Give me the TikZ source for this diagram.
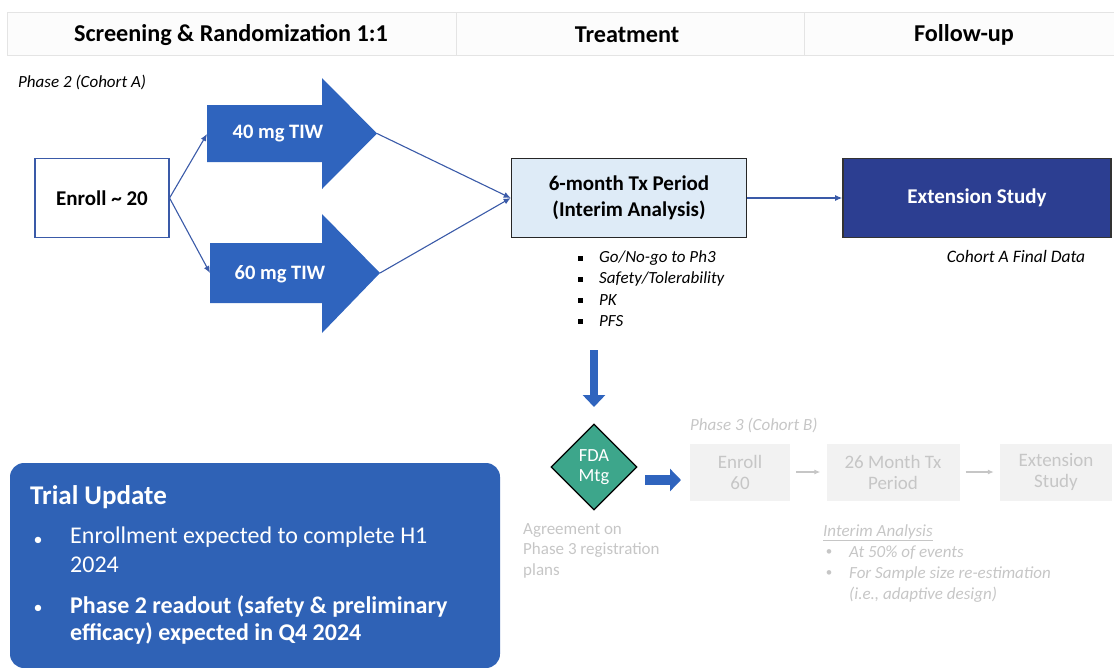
\documentclass[tikz,border=0pt]{standalone}
\usepackage{fontspec}
\setmainfont{Carlito}
\usetikzlibrary{arrows.meta,shapes.geometric}

\definecolor{hdrbg}{HTML}{FCFCFC}
\definecolor{hdrline}{HTML}{E4E4E4}
\definecolor{armblue}{HTML}{2F64BE}
\definecolor{navy}{HTML}{2C3E91}
\definecolor{paleblue}{HTML}{DEEBF7}
\definecolor{tealgreen}{HTML}{3DA68B}
\definecolor{fadetext}{HTML}{C6C6C6}
\definecolor{fadebox}{HTML}{F2F2F2}
\definecolor{linkblue}{HTML}{3A5AA8}
\definecolor{updblue}{HTML}{2F62B6}

\tikzset{
  hdrtext/.style={font=\fontsize{24.2}{28}\selectfont\bfseries, text=black},
  link/.style={draw=linkblue, line width=1.1pt, -{Latex[length=7pt,width=6pt]}},
  fadelink/.style={draw=fadetext, line width=1.1pt, -{Latex[length=6pt,width=5pt]}},
  fadebx/.style={fill=fadebox, draw=none, minimum height=57, align=center,
    text=fadetext, font=\fontsize{19}{21}\selectfont},
  armtext/.style={text=white, font=\fontsize{20.5}{24}\selectfont\bfseries},
  bulletit/.style={anchor=west, font=\fontsize{17}{20}\selectfont\itshape, inner sep=0},
  fadeit/.style={anchor=west, font=\fontsize{17}{20}\selectfont\itshape, text=fadetext, inner sep=0},
  updtext/.style={anchor=north west, align=left, text=white, inner sep=0,
    font=\fontsize{24}{29}\selectfont},
}

\begin{document}
\begin{tikzpicture}[x=1pt,y=-1pt]
\useasboundingbox (0,0) rectangle (1114,667);

% column header band
\draw[draw=hdrline, fill=hdrbg, line width=0.8pt] (7,12) rectangle (1120,55);
\draw[draw=hdrline, line width=0.8pt] (456,12) -- (456,55) (804,12) -- (804,55);
\node[hdrtext] (hscr) at (231,35) {Screening \& Randomization 1:1};
\node[hdrtext] (htx) at (627,35) {Treatment};
\node[hdrtext] (hfu) at (964,35) {Follow-up};

\node[anchor=west, inner sep=0, font=\fontsize{17}{20}\selectfont\itshape] (ph2) at (18,82) {Phase 2 (Cohort A)};

% enrolment box
\node[draw=linkblue, line width=1.1pt, fill=white, minimum width=134, minimum height=79,
      font=\fontsize{21}{25}\selectfont\bfseries] (enroll) at (102,198) {Enroll \textasciitilde{} 20};

% dose arms as block arrows
\fill[armblue] (207,105) -- (322,105) -- (322,78) -- (377,133.5) -- (322,189) -- (322,162) -- (207,162) -- cycle;
\fill[armblue] (210,243) -- (322,243) -- (322,214) -- (380,273) -- (322,333) -- (322,303) -- (210,303) -- cycle;
\node[armtext] (arm40) at (278,134) {40 mg TIW};
\node[armtext] (arm60) at (280,274) {60 mg TIW};
\coordinate (in40) at (207,134);
\coordinate (in60) at (210,273);
\coordinate (tip40) at (377,133.5);
\coordinate (tip60) at (380,273);

% treatment period and extension
\node[draw=black!85, line width=1.6pt, fill=paleblue, minimum width=235, minimum height=79,
      align=center, font=\fontsize{21}{26}\selectfont\bfseries] (tx) at (629,198)
      {6-month Tx Period\\(Interim Analysis)};
\node[draw=black!80, line width=1.6pt, fill=navy, minimum width=268, minimum height=79,
      text=white, font=\fontsize{21}{25}\selectfont\bfseries] (ext) at (977,198) {Extension Study};
\node[anchor=center, inner sep=0, font=\fontsize{17.5}{20}\selectfont\itshape] (finaldata) at (1016,256) {Cohort A Final Data};

\draw[link] (enroll.east) -- (in40);
\draw[link] (enroll.east) -- (in60);
\draw[link] (tip40) -- (tx.west);
\draw[link] (tip60) -- (tx.west);
\draw[link] (tx.east) -- (ext.west);

% interim analysis readouts
\foreach \yy/\tt [count=\i] in {258/{Go/No-go to Ph3}, 279/{Safety/Tolerability}, 300/{PK}, 321/{PFS}}{
  \fill (578,\yy-2.5) rectangle +(5,5);
  \node[bulletit] (ia\i) at (599,\yy) {\tt};
}

% decision path to phase 3
\coordinate (dnstart) at (594,350);
\coordinate (dnend) at (594,407);
\node[diamond, draw=black, line width=1.3pt, fill=tealgreen, minimum width=86, minimum height=86,
      inner sep=0, align=center, text=white, font=\fontsize{18.5}{20}\selectfont] (fda) at (594,467) {FDA\\Mtg};
\draw[armblue, line width=8pt, -{Triangle[length=12pt,width=22pt]}] (dnstart) -- (dnend);
\coordinate (rtstart) at (645,480);
\coordinate (rtend) at (681,480);
\draw[armblue, line width=10pt, -{Triangle[length=11pt,width=22pt]}] (rtstart) -- (rtend);

\node[anchor=west, inner sep=0, font=\fontsize{17}{20}\selectfont\itshape, text=fadetext] (ph3) at (690,425) {Phase 3 (Cohort B)};
\node[fadebx, minimum width=100] (en60) at (740,472) {Enroll\\60};
\node[fadebx, minimum width=133] (tx26) at (893,472) {26 Month Tx\\Period};
\node[fadebx, minimum width=112] (ext3) at (1056,472) {Extension\\Study};
\draw[fadelink] (en60.east) ++(6,0) -- ([xshift=-6pt]tx26.west);
\draw[fadelink] (tx26.east) ++(6,0) -- ([xshift=-6pt]ext3.west);

\node[anchor=north west, align=left, inner sep=0, text=fadetext,
      font=\fontsize{17}{20.5}\selectfont] (agree) at (523,523) {Agreement on\\Phase 3 registration\\plans};
\node[fadeit] (iah) at (823,533) {\underline{Interim Analysis}};
\node[text=fadetext, inner sep=0, font=\fontsize{13}{14}\selectfont] (fb1) at (829,553) {\textbullet};
\node[fadeit] (fi1) at (849,553) {At 50\% of events};
\node[text=fadetext, inner sep=0, font=\fontsize{13}{14}\selectfont] (fb2) at (829,574) {\textbullet};
\node[fadeit] (fi2) at (849,574) {For Sample size re-estimation};
\node[fadeit] (fi3) at (849,595) {(i.e., adaptive design)};

% trial update panel
\fill[updblue, rounded corners=14pt] (10,463) rectangle (500,668);
\node[anchor=west, inner sep=0, text=white, font=\fontsize{27}{30}\selectfont\bfseries] (updt) at (30,497) {Trial Update};
\node[text=white, inner sep=0, font=\fontsize{18}{20}\selectfont] (ub1) at (38,541) {\textbullet};
\node[updtext] (ut1) at (70,527) {Enrollment expected to complete H1\\2024};
\node[text=white, inner sep=0, font=\fontsize{18}{20}\selectfont] (ub2) at (38,609) {\textbullet};
\node[updtext, font=\fontsize{24}{27}\selectfont\bfseries] (ut2) at (70,595) {Phase 2 readout (safety \& preliminary\\efficacy) expected in Q4 2024};
\end{tikzpicture}
\end{document}
